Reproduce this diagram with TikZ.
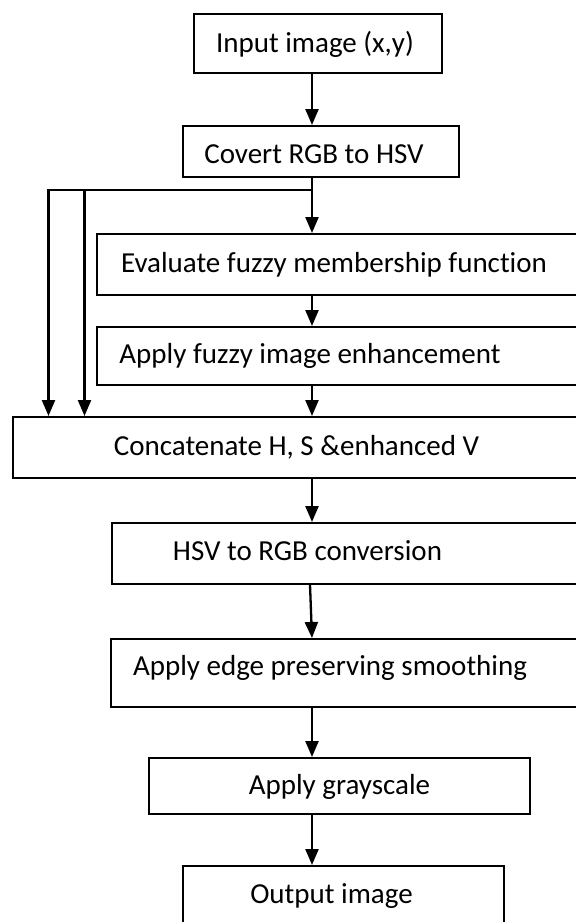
\documentclass[tikz,border=0pt]{standalone}
\usepackage{fontspec}
\setmainfont[Ligatures=NoCommon]{Carlito}
\usetikzlibrary{arrows.meta}
\begin{document}
\begin{tikzpicture}[x=1pt,y=-1pt,
  box/.style={draw, line width=1.6pt, inner sep=0pt, anchor=north west},
  lbl/.style={inner sep=0pt, anchor=base, font=\fontsize{29}{35}\selectfont},
  arr/.style={line width=2.3pt, -{Triangle[width=13pt,length=16pt]}},
  ln/.style={line width=2.3pt}]
\useasboundingbox (0,0) rectangle (576,922);
\clip (0,0) rectangle (576,922);
\fill[white] (0,0) rectangle (576,922);

% boxes
\node[box, minimum width=248pt, minimum height=59pt] (b1) at (193,13) {};
\node[box, minimum width=276pt, minimum height=51pt] (b2) at (182,125) {};
\node[box, minimum width=490pt, minimum height=61pt] (b3) at (96,233) {};
\node[box, minimum width=490pt, minimum height=58pt] (b4) at (96,326) {};
\node[box, minimum width=574pt, minimum height=61pt] (b5) at (12,416) {};
\node[box, minimum width=475pt, minimum height=61pt] (b6) at (111,522) {};
\node[box, minimum width=476pt, minimum height=68pt] (b7) at (110,638) {};
\node[box, minimum width=381pt, minimum height=56pt] (b8) at (148,757) {};
\node[box, minimum width=321pt, minimum height=70pt] (b9) at (182,865) {};

% texts
\node[lbl] (t1) at (315,52) {Input image (x,y)};
\node[lbl] (t2) at (314,163.5) {Covert RGB to HSV};
\node[lbl] (t3) at (334,272) {Evaluate fuzzy membership function};
\node[lbl] (t4) at (310,363) {Apply fuzzy image enhancement};
\node[lbl] (t5) at (296.5,455) {Concatenate H, S \&enhanced V};
\node[lbl] (t6) at (307.5,560) {HSV to RGB conversion};
\node[lbl] (t7) at (330,675) {Apply edge preserving smoothing};
\node[lbl] (t8) at (339.5,794.5) {Apply grayscale};
\node[lbl] (t9) at (331.5,903) {Output image};

% connector guides
\coordinate (ax) at (312,0);
\coordinate (axs) at (310,0);
\coordinate (la) at (48.5,0);
\coordinate (lb) at (84.5,0);
\coordinate (j) at (312,190);

% connectors
\draw[arr] (b1.south -| ax) -- (b2.north -| ax);
\draw[arr] (b2.south -| ax) -- (b3.north -| ax);
\draw[arr] (j) -| (b5.north -| la);
\draw[arr] (j -| lb) -- (b5.north -| lb);
\draw[arr] (b3.south -| ax) -- (b4.north -| ax);
\draw[arr] (b4.south -| ax) -- (b5.north -| ax);
\draw[arr] (b5.south -| ax) -- (b6.north -| ax);
\draw[arr] (b6.south -| axs) -- (b7.north -| ax);
\draw[arr] (b7.south -| ax) -- (b8.north -| ax);
\draw[arr] (b8.south -| ax) -- (b9.north -| ax);
\end{tikzpicture}
\end{document}
